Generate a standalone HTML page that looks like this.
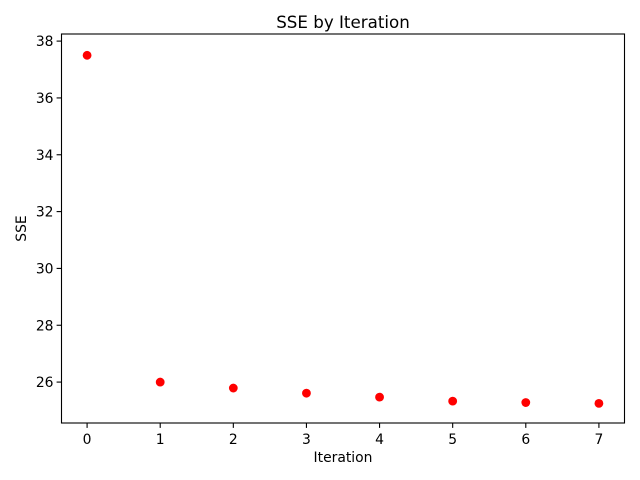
<!DOCTYPE html>
<html><head><meta charset="utf-8"><style>body{margin:0;background:#fff}svg{display:block}text{font-family:"DejaVu Sans","Liberation Sans",sans-serif;fill:#000}</style></head>
<body>
<svg id="chart" width="640" height="480" viewBox="0 0 640 480" xmlns="http://www.w3.org/2000/svg">
<rect width="640" height="480" fill="#fff"/>
<g id="plot"></g>
</svg>
<script>
const iterations = [0,1,2,3,4,5,6,7];
const sseValues = [37.5,26.0,25.79,25.61,25.47,25.33,25.28,25.25];
const xTicks = [0,1,2,3,4,5,6,7];
const yTicks = [26,28,30,32,34,36,38];

const L=61.5,R=624.5,T=34,B=423;
const xMin=-0.35,xMax=7.35,yMin=24.56,yMax=38.25;
const xs=v=>L+(v-xMin)/(xMax-xMin)*(R-L);
const ys=v=>B-(v-yMin)/(yMax-yMin)*(B-T);
const NS="http://www.w3.org/2000/svg";
const g=document.getElementById('plot');
function mk(t,a,txt){const e=document.createElementNS(NS,t);for(const k in a)e.setAttribute(k,a[k]);if(txt!==undefined)e.textContent=txt;g.appendChild(e);return e;}

xTicks.forEach(v=>{
  const x=xs(v);
  const l=mk('line',{x1:x,x2:x,y1:B,y2:B+4.9,stroke:'#000','stroke-width':1.1});
  
  
  const t=mk('text',{x:x,y:B+21,'text-anchor':'middle','font-size':13.9},v);
  
  
});
yTicks.forEach(v=>{
  const y=ys(v);
  const l=mk('line',{x1:L-4.9,x2:L,y1:y,y2:y,stroke:'#000','stroke-width':1.1});
  
  
  const t=mk('text',{x:L-8,y:y+5,'text-anchor':'end','font-size':13.9},v);
  
  
});
iterations.forEach((it,i)=>{
  const c=mk('circle',{cx:xs(it),cy:ys(sseValues[i]),r:4.4,fill:'#ff0000'});
  
  
});
const fr=mk('rect',{x:L,y:T,width:R-L,height:B-T,fill:'none',stroke:'#000','stroke-width':1.1});


const tt=mk('text',{x:(L+R)/2,y:T-6,'text-anchor':'middle','font-size':16.7},'SSE by Iteration');


const xl=mk('text',{x:(L+R)/2,y:B+39,'text-anchor':'middle','font-size':13.9},'Iteration');


const yl=mk('text',{x:0,y:0,'text-anchor':'middle','font-size':13.9,transform:`translate(26,${(T+B)/2}) rotate(-90)`},'SSE');


</script>
</body></html>
